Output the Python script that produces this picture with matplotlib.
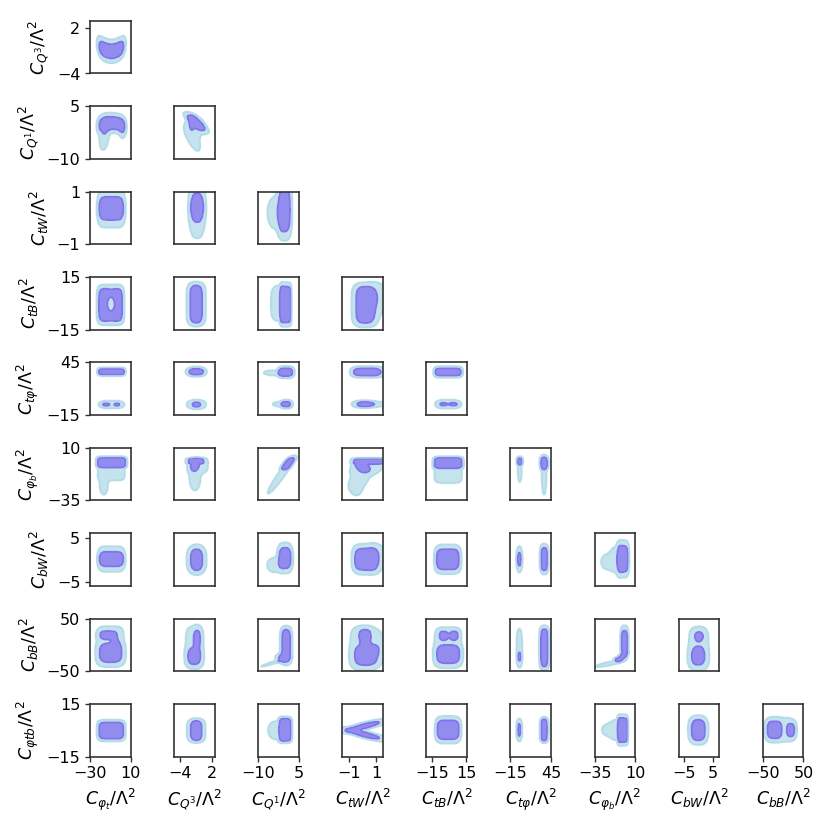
import numpy as np
import matplotlib
matplotlib.use("Agg")
import matplotlib.pyplot as plt

# Parameter labels (column variables 0..8, row variables 1..9)
labels = [r"$C_{\varphi_t}/\Lambda^2$", r"$C_{Q^3}/\Lambda^2$", r"$C_{Q^1}/\Lambda^2$",
          r"$C_{tW}/\Lambda^2$", r"$C_{tB}/\Lambda^2$", r"$C_{t\varphi}/\Lambda^2$",
          r"$C_{\varphi_b}/\Lambda^2$", r"$C_{bW}/\Lambda^2$", r"$C_{bB}/\Lambda^2$",
          r"$C_{\varphi tb}/\Lambda^2$"]
tick_values = [(-30, 10), (-4, 2), (-10, 5), (-1, 1), (-15, 15), (-15, 45),
               (-35, 10), (-5, 5), (-50, 50), (-15, 15)]
x_limits = [(-30, 10), (-5.1, 2.5), (-10, 5), (-1.53, 1.53), (-20, 15.5),
            (-15, 45), (-35, 10), (-7, 7.2), (-50, 50)]
y_limits = [None, (-4, 3), (-10, 5), (-1, 1), (-15, 15), (-15, 45),
            (-35, 10), (-5.9, 6), (-50, 50), (-15, 15)]

# credible-region levels on the density scale: outer (95%) and inner (68%)
level_outer = 0.12
level_inner = 0.5

# posterior density components per panel (row, col):
# (mx, my, a, b, px, py, weight, shear_x, shear_y, curv)
posterior = {
    (0, 0): [(-9, -1.05, 12, 0.95, 6, 2.2, 1, 0, 0, 0.005)],
    (1, 0): [(-9, 0.2, 11.8, 1.75, 5, 2.2, 1, 0, 0, -0.004), (-16, -3.5, 3.5, 3, 2, 2, .4, .3),
             (2, -1.5, 2.5, 2, 2, 2, .35)],
    (1, 1): [(-1.0, 0.3, 0.8, 1.9, 2.5, 2.5, 1, -0.6), (-1.75, 0.2, 0.45, 1.3, 2, 2, .6),
             (-1.2, -1, 1.5, 2.5, 2, 2, .3), (-1.5, -4.5, 0.8, 2.8, 2, 2, .3, -0.25)],
    (2, 0): [(-9.1, 0.36, 11.9, 0.44, 6, 2.2, 1)],
    (2, 1): [(-0.8, 0.39, 1.2, 0.55, 3, 1.5, 1)],
    (2, 2): [(-0.25, 0.3, 1.95, 0.8, 3, 3, 1), (-3.5, 0.2, 2.5, 0.5, 2, 2, .35)],
    (3, 0): [(-9.8, -0.9, 11.4, 9.3, 6, 5, 1), (-9.4, -0.5, 4.2, 4.5, 2, 2, -0.8)],
    (3, 1): [(-0.98, -0.45, 1.12, 10.65, 2.3, 6, 1)],
    (3, 2): [(0.12, -0.7, 1.9, 10.1, 6, 5, 1), (-2.8, 0, 2.0, 9, 2, 4, .35)],
    (3, 3): [(0.19, -0.9, 0.68, 10.3, 2.7, 5, 1), (1.2, 3, 0.5, 7, 2, 2, .3)],
    (4, 0): [(-8.9, 34.3, 12.4, 3.4, 8, 2.9, 1), (-8.8, -3, 11.1, 3.3, 4, 2, .4),
             (-14.6, -3, 2.8, 1.6, 2, 2, .35), (-3.4, -3, 2.2, 1.6, 2, 2, .33)],
    (4, 1): [(-0.97, 34.3, 1.33, 3.4, 2.7, 2.1, 1), (-0.93, -3, 1.15, 3.85, 2, 2.5, .67)],
    (4, 2): [(0.2, 33.8, 2.4, 4.5, 3.5, 2.5, 1), (-4.5, 33, 3, 2.5, 2, 2, .3),
             (0.4, -2.6, 1.65, 3.5, 2.5, 2.5, .75), (-2.5, -2.6, 1.8, 2.2, 2, 2, .3)],
    (4, 3): [(0.27, 34, 0.94, 4.2, 4, 2.4, 1), (1.5, 34, 0.6, 4, 2, 2, .25),
             (0.1, -2.6, 0.55, 3.0, 2, 2.5, .8), (0.9, -2.6, 0.8, 2.5, 2, 2, .3)],
    (4, 4): [(-1, 34, 11.2, 4.2, 7, 2.4, 1), (-1, -2.6, 10, 3.8, 4, 2, .4),
             (-5.4, -2.6, 2.6, 1.6, 2, 2, .35), (3.8, -2.6, 3.2, 1.6, 2, 2, .35)],
    (5, 0): [(-8.8, -2.5, 13.6, 4, 8, 4, 1), (-9, -12, 12.5, 5, 8, 3, .35),
             (-16.5, -22, 3.5, 7, 2, 2, .3)],
    (5, 1): [(-1.05, -1.3, 1.15, 2.2, 2.5, 6, 1), (-1.25, -5, 0.55, 3, 2, 2, .7, 0.05),
             (-0.65, -5, 1.7, 6, 3, 3, .3), (-1.2, -16, 0.9, 9, 2, 2, .3)],
    (5, 2): [(1.0, -3.5, 1.3, 4.5, 2.5, 4, .9, .3), (-1.5, -13, 1.3, 14, 2, 2, .3, .295)],
    (5, 3): [(0.6, -1.5, 1.05, 2.2, 4, 6, 1), (-0.1, -5.5, 0.35, 3.5, 2, 2, .8, -0.06),
             (0.35, -6, 1.05, 6, 3, 3, .3, 0.04), (-0.25, -17, 0.6, 8, 2, 2, .3, 0.04),
             (-0.45, -24, 0.3, 5, 2, 2, .3)],
    (5, 4): [(-1, -2.8, 11.8, 4.2, 7, 4, 1), (-1, -13, 11.5, 6.5, 6, 3, .3)],
    (5, 5): [(-1.3, -1.5, 3.5, 2.8, 2.5, 3, .75), (-1.3, -10, 2.5, 8, 2, 2, .3),
             (34.6, -3, 4.5, 4.5, 2.5, 3, 1), (34.6, -15, 3.0, 13, 2, 2, .3)],
    (6, 0): [(-9, 0.15, 11.8, 1.65, 6, 2, 1)],
    (6, 1): [(-0.9, 0, 1.1, 2.4, 2.1, 3, 1)],
    (6, 2): [(-0.1, 0.4, 2.1, 2.3, 3, 2.7, 1), (-4.2, -1.2, 2.2, 1.4, 2, 2, .3)],
    (6, 3): [(0.23, 0.1, 0.81, 2.4, 4, 3, 1), (1.2, 0.5, 0.6, 2.3, 2, 2, .3)],
    (6, 4): [(-1.3, 0.1, 9.7, 2.3, 5, 3, 1)],
    (6, 5): [(-1.9, 0.1, 3.0, 1.8, 2, 2, .8), (34.8, 0.15, 4.5, 2.55, 2.7, 3.6, 1)],
    (6, 6): [(-3.6, 0.2, 5.5, 2.9, 4, 3, 1), (-12, 0, 6, 2.5, 2, 2, .3),
             (-22, -0.5, 5, 1.3, 2, 2, .3)],
    (7, 0): [(-10, -2, 13, 37, 5, 5, .25), (-12, 18.75, 8, 7.5, 3, 3, .6),
             (-9.65, -15.6, 10, 16, 3, 3, .75), (-5, 4, 3.5, 7, 2, 2, .4)],
    (7, 1): [(-1.35, -4, 1.55, 38, 3, 5, .25), (-0.8, 12, 0.6, 16, 2, 2.5, .6),
             (-1.35, -22, 1.1, 14, 2.5, 2.5, .7)],
    (7, 2): [(0.3, -1, 1.5, 30, 2.5, 5, 1), (-1.5, -25, 1.5, 6, 2, 2, .6),
             (-4, -33, 1.2, 7, 2, 2, .3, .58)],
    (7, 3): [(0.1, -5, 1.0, 40, 3, 5, .25), (0.17, 18, 0.38, 10, 2.5, 2.5, .75),
             (0.23, -20, 0.75, 17, 3, 3, .75), (0.2, 3, 0.3, 5, 2, 2, .3),
             (1.3, -5, 0.5, 20, 2, 2, .3)],
    (7, 4): [(-1.35, -5, 11.4, 36.6, 5, 5, .25), (-5, 18, 3.6, 8.5, 2.5, 2.5, .55),
             (4.2, 18, 3.6, 8.5, 2.5, 2.5, .55), (-0.85, -18, 9.3, 15.4, 3.5, 3, .75)],
    (7, 5): [(-1.8, -6, 3.5, 34, 2, 4, .3), (-1.8, -23, 2.5, 9, 2, 2, .4),
             (34.9, -5.5, 5, 35.5, 2.5, 6, 1)],
    (7, 6): [(-1.9, 5, 3.4, 22, 3, 3, 1), (-4.5, -22, 3.0, 6, 2, 2, .8, 0.4),
             (-9, -28, 3.2, 3.2, 2, 2, .7), (-20, -36, 12, 3, 2, 2, .3, 0, .35)],
    (7, 7): [(0, -6, 3.0, 37, 3, 5, .3), (0.1, 17, 1.5, 9, 2, 2, .45),
             (-0.25, -22, 2.4, 17, 2.5, 2.5, .5)],
    (8, 0): [(-9.1, -0.15, 11.9, 4.65, 6, 4, 1)],
    (8, 1): [(-0.97, -0.15, 1.03, 5.55, 2.1, 4.5, 1)],
    (8, 2): [(0, 0.3, 2, 6.3, 4, 6, 1), (-3.5, 0, 2.5, 4.5, 2, 2, .3)],
    (8, 3): [(0.18, 2.45, 0.6, 2.4, 2, 2, 1, 0.37), (0.18, -2.45, 0.6, 2.4, 2, 2, 1, -0.37)],
    (8, 4): [(-1, 0.3, 9.4, 5.4, 5, 3, 1)],
    (8, 5): [(-2.1, 0.2, 2.9, 4.85, 2, 3, .65), (34.7, 0.2, 4.2, 6.1, 2.3, 5.4, 1)],
    (8, 6): [(-3.8, 0.15, 5.2, 6.75, 6, 4, 1), (-12, 0.2, 6, 5, 2, 2, .3),
             (-21, 0.2, 5, 2.5, 2, 2, .3)],
    (8, 7): [(-0.15, 0.15, 2.35, 5.85, 2.6, 3, 1)],
    (8, 8): [(-7, 0.3, 36, 6.2, 5, 3, .3), (-21.5, 0.3, 15.4, 4.35, 3.5, 3, .75),
             (19.5, 0.1, 8.75, 3.5, 2.5, 3, .6)],
}


def density(comps, X, Y):
    Z = np.zeros_like(X)
    with np.errstate(over="ignore", under="ignore", invalid="ignore"):
        for comp in comps:
            mx, my, a, b, px, py, w, k, s, c = (list(comp) + [0, 0, 0])[:10]
            dx = X - mx
            dy = Y - my
            u = (dx - k * dy) / a
            v = (dy - s * dx - c * dx ** 2) / b
            Z += w * np.exp(-np.log(2) * (np.abs(u) ** px + np.abs(v) ** py))
    return np.clip(np.nan_to_num(Z), 0, None)


def fmt(t):
    return str(t).replace("-", "\u2212")


fig = plt.figure(figsize=(8.3, 8.3), dpi=100)
W, H = 830.0, 830.0
col_pitch, row_pitch = 84.09, 85.4
ax_w, ax_h = 40.7, 52.8
spine_color = "#333333"
fs_tick, fs_label = 11.5, 12.5

for r in range(9):
    for c in range(r + 1):
        left = 90.0 + col_pitch * c
        top = 20.7 + row_pitch * r
        ax = fig.add_axes([left / W, 1 - (top + ax_h) / H, ax_w / W, ax_h / H])
        xlo, xhi = x_limits[c]
        ylo, yhi = y_limits[r + 1]
        dxr, dyr = xhi - xlo, yhi - ylo
        gx = np.linspace(xlo - 0.3 * dxr, xhi + 0.3 * dxr, 320)
        gy = np.linspace(ylo - 0.3 * dyr, yhi + 0.3 * dyr, 320)
        X, Y = np.meshgrid(gx, gy)
        Z = density(posterior[(r, c)], X, Y)
        top_level = max(Z.max(), 1.0) * 2
        ax.contourf(X, Y, Z, levels=[level_outer, top_level], colors=["lightblue"], alpha=0.7)
        if Z.max() > level_inner:
            ax.contourf(X, Y, Z, levels=[level_inner, top_level], colors=["mediumslateblue"], alpha=0.7)
            ax.contour(X, Y, Z, levels=[level_inner], colors=["mediumslateblue"], linewidths=1.3, alpha=0.7)
        ax.contour(X, Y, Z, levels=[level_outer], colors=["lightblue"], linewidths=1.5, alpha=0.7)
        ax.set_xlim(xlo, xhi)
        ax.set_ylim(ylo, yhi)
        for sp in ax.spines.values():
            sp.set_color(spine_color)
            sp.set_linewidth(1.2)
        ax.tick_params(colors=spine_color, labelcolor="black", labelsize=fs_tick,
                       length=3.5, width=1.0)
        if r == 8:
            ax.set_xticks(tick_values[c])
            ax.set_xticklabels([fmt(t) for t in tick_values[c]])
            ax.set_xlabel(labels[c], fontsize=fs_label)
        else:
            ax.set_xticks([])
        if c == 0:
            ax.set_yticks(tick_values[r + 1])
            ax.set_yticklabels([fmt(t) for t in tick_values[r + 1]])
            ax.set_ylabel(labels[r + 1], fontsize=fs_label)
        else:
            ax.set_yticks([])

fig.savefig("out.png", dpi=100)
